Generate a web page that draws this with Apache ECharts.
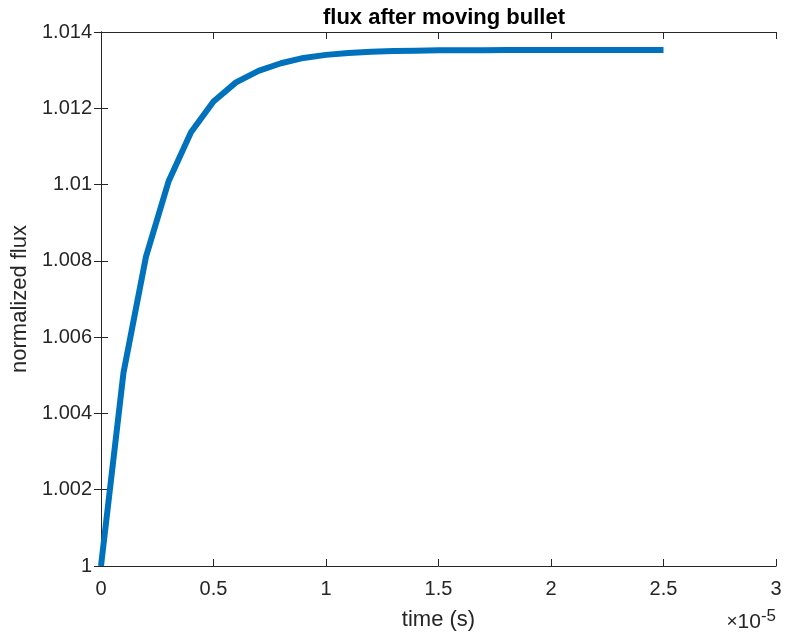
<!DOCTYPE html>
<html style="height: 100%" lang="en">
<head>
    <meta charset="UTF-8">
    <title>flux after moving bullet</title>
</head>
<body style="height: 100%; margin: 0; background: #fff">
<div id="main1" style="width: 785px; height: 641px"></div>

<script src="https://cdn.jsdelivr.net/npm/echarts@6/dist/echarts.min.js"></script>
<script type="text/javascript">

    // time in units of 1e-5 s
    var timeVals = [0, 0.1, 0.2, 0.3, 0.4, 0.5, 0.6, 0.7, 0.8, 0.9, 1.0, 1.1, 1.2, 1.3,
        1.4, 1.5, 1.6, 1.7, 1.8, 1.9, 2.0, 2.1, 2.2, 2.3, 2.4, 2.5];
    var fluxVals = [1.0000, 1.00507, 1.00811, 1.01008, 1.01137, 1.01218, 1.01268, 1.01298,
        1.01318, 1.01332, 1.01340, 1.01345, 1.01348, 1.01350, 1.01351, 1.01352, 1.01352,
        1.01352, 1.01353, 1.01353, 1.01353, 1.01353, 1.01353, 1.01353, 1.01353, 1.01353];

    var fontFam = '"Liberation Sans", Arial, Helvetica, sans-serif';
    var axisColor = '#262626';

    var points = timeVals.map(function (t, i) { return [t, fluxVals[i]]; });

    var myChart1 = echarts.init(document.getElementById('main1'));

    var option1 = {
        backgroundColor: '#fff',
        animation: false,
        title: {
            text: 'flux after moving bullet',
            left: 439,
            textAlign: 'center',
            top: 2,
            textStyle: { color: '#000', fontSize: 22, fontWeight: 'bold', fontFamily: fontFam }
        },
        grid: { left: 101, right: 9, top: 32, bottom: 75 },
        xAxis: [{
            type: 'value',
            min: 0, max: 3, interval: 0.5,
            name: 'time (s)',
            nameLocation: 'middle',
            nameGap: 43,
            nameTextStyle: { color: axisColor, fontSize: 22, fontFamily: fontFam },
            axisLine: { lineStyle: { color: axisColor, width: 1 } },
            axisTick: { inside: true, length: 7, lineStyle: { color: axisColor } },
            axisLabel: { color: axisColor, fontSize: 20, fontFamily: fontFam, margin: 13 },
            splitLine: { show: false }
        }, {
            type: 'value',
            position: 'top',
            min: 0, max: 3, interval: 0.5,
            axisLine: { show: true, lineStyle: { color: axisColor, width: 1 } },
            axisTick: { inside: true, length: 7, lineStyle: { color: axisColor } },
            axisLabel: { show: false },
            splitLine: { show: false }
        }],
        yAxis: [{
            type: 'value',
            min: 1, max: 1.014, interval: 0.002,
            name: 'normalized flux',
            nameLocation: 'middle',
            nameGap: 69,
            nameTextStyle: { color: axisColor, fontSize: 22, fontFamily: fontFam },
            axisLine: { show: true, lineStyle: { color: axisColor, width: 1 } },
            axisTick: { show: true, inside: true, length: 7, lineStyle: { color: axisColor } },
            axisLabel: {
                color: axisColor, fontSize: 20, fontFamily: fontFam, margin: 9,
                formatter: function (v) { return parseFloat(v.toFixed(3)).toString(); }
            },
            splitLine: { show: false }
        }, {
            type: 'value',
            position: 'right',
            min: 1, max: 1.014, interval: 0.002,
            axisLine: { show: true, lineStyle: { color: axisColor, width: 1 } },
            axisTick: { show: true, inside: true, length: 7, lineStyle: { color: axisColor } },
            axisLabel: { show: false },
            splitLine: { show: false }
        }],
        graphic: [{
            type: 'text',
            right: 9,
            top: 608,
            style: {
                text: '{a|×}{b|10}{c|-5}',
                rich: {
                    a: { fontSize: 19, fill: axisColor, fontFamily: fontFam },
                    b: { fontSize: 21, fill: axisColor, fontFamily: fontFam },
                    c: { fontSize: 17, fill: axisColor, fontFamily: fontFam, verticalAlign: 'top', padding: [0, 0, 11, 0] }
                }
            }
        }],
        series: [{
            name: 'flux',
            type: 'line',
            data: points,
            showSymbol: false,
            clip: false,
            lineStyle: { color: '#0072BD', width: 6 },
            itemStyle: { color: '#0072BD' }
        }]
    };

    myChart1.setOption(option1);

</script>
</body>
</html>
